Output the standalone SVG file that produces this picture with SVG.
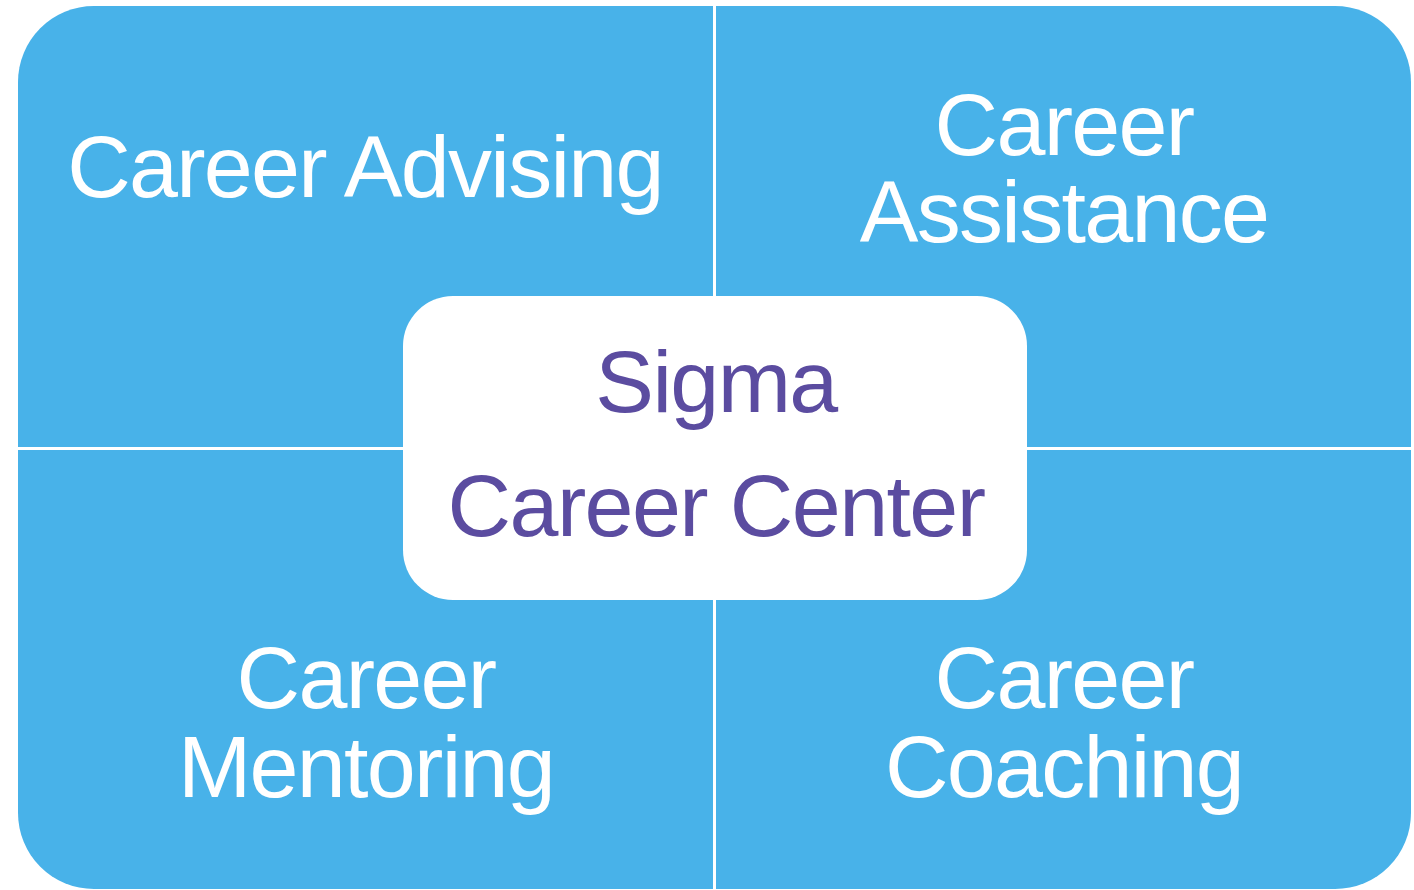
<svg xmlns="http://www.w3.org/2000/svg" width="1414" height="890" viewBox="0 0 1414 890">
<style>
.q{fill:#48B2E9}
.t{font-family:"Liberation Sans",Arial,sans-serif;font-size:88px;letter-spacing:-1.7px;fill:#FFFFFF;text-anchor:middle}
.c{font-family:"Liberation Sans",Arial,sans-serif;font-size:88px;letter-spacing:-1.6px;fill:#5B4CA0;text-anchor:middle}
</style>
<rect width="1414" height="890" fill="#FFFFFF"/>
<g id="q-advising">
<path class="q" d="M18,447 V82 A76,76 0 0 1 94,6 H713 V447 Z"/>
<text class="t" x="365" y="197">Career Advising</text>
</g>
<g id="q-assistance">
<path class="q" d="M716,6 H1335 A76,76 0 0 1 1411,82 V447 H716 Z"/>
<text class="t" x="1064" y="155">Career</text>
<text class="t" x="1064" y="242">Assistance</text>
</g>
<g id="q-mentoring">
<path class="q" d="M18,450 H713 V889 H94 A76,76 0 0 1 18,813 Z"/>
<text class="t" x="366" y="708">Career</text>
<text class="t" x="366" y="797">Mentoring</text>
</g>
<g id="q-coaching">
<path class="q" d="M716,450 H1411 V813 A76,76 0 0 1 1335,889 H716 Z"/>
<text class="t" x="1064" y="708">Career</text>
<text class="t" x="1064" y="797">Coaching</text>
</g>
<g id="center">
<rect x="403" y="296" width="624" height="304" rx="50" ry="50" fill="#FFFFFF"/>
<text class="c" x="716" y="412">Sigma</text>
<text class="c" x="716" y="536">Career Center</text>
</g>
<g id="connectors"></g>
</svg>
